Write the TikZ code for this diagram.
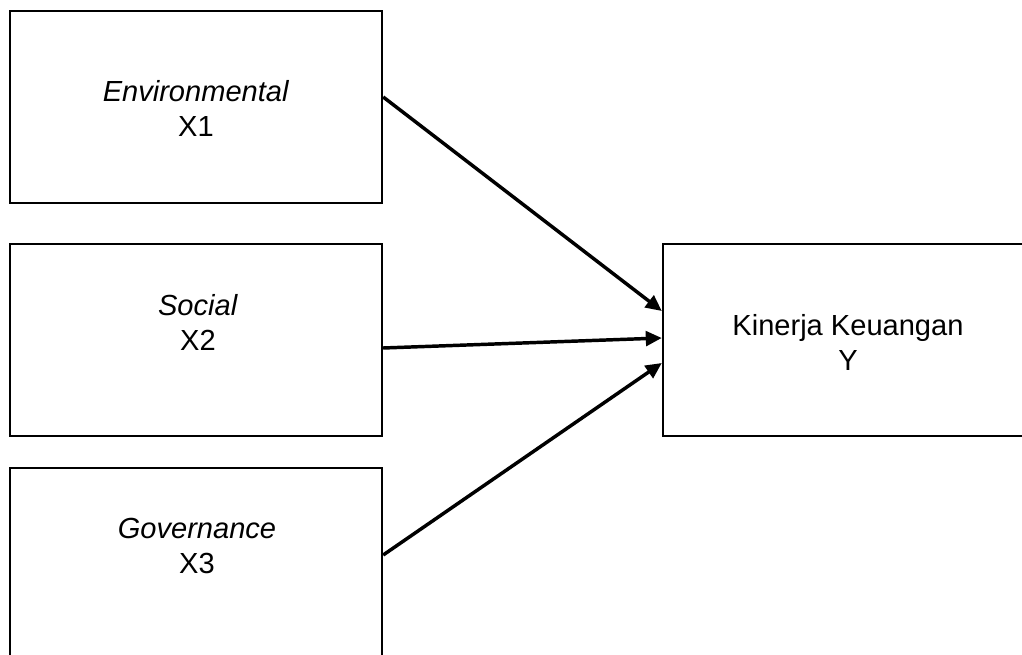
\documentclass[tikz,border=0pt]{standalone}
\usepackage{fontspec}
\setmainfont{Liberation Sans}
\usetikzlibrary{positioning,calc,arrows.meta}

\begin{document}
\begin{tikzpicture}
   [x=0.75pt,y=-0.75pt,
	varbox/.style={rectangle,draw,line width=1.8pt,inner sep=0pt,
	 minimum width=279pt,minimum height=144pt},
	vartext/.style={align=center,inner sep=0pt,
	 font=\fontsize{21.8}{26.25}\selectfont},
	path/.style={line width=2.6pt,-{Triangle[length=12pt,width=11pt]}}]
\clip (0,0) rectangle (1022,655);
\node [varbox] (x1) at (196,107) {};
\node [varbox] (x2) at (196,340) {};
\node [varbox] (x3) at (196,564) {};
\node [varbox] (y) at (849,340) {};
\node [vartext] (x1t) at (196,108) {\textit{Environmental}\\X1};
\node [vartext] (x2t) at (198,322) {\textit{Social}\\X2};
\node [vartext] (x3t) at (197,546) {\textit{Governance}\\X3};
\node [vartext] (yt) at (848,342) {Kinerja Keuangan\\Y};
\draw [path] ($(x1.east)+(0,-10)$) -- ($(y.west)+(0,-29)$);
\draw [path] ($(x2.east)+(0,8)$) -- ($(y.west)+(0,-2)$);
\draw [path] ($(x3.east)+(0,-9)$) -- ($(y.west)+(0,23)$);
\end{tikzpicture}
\end{document}
